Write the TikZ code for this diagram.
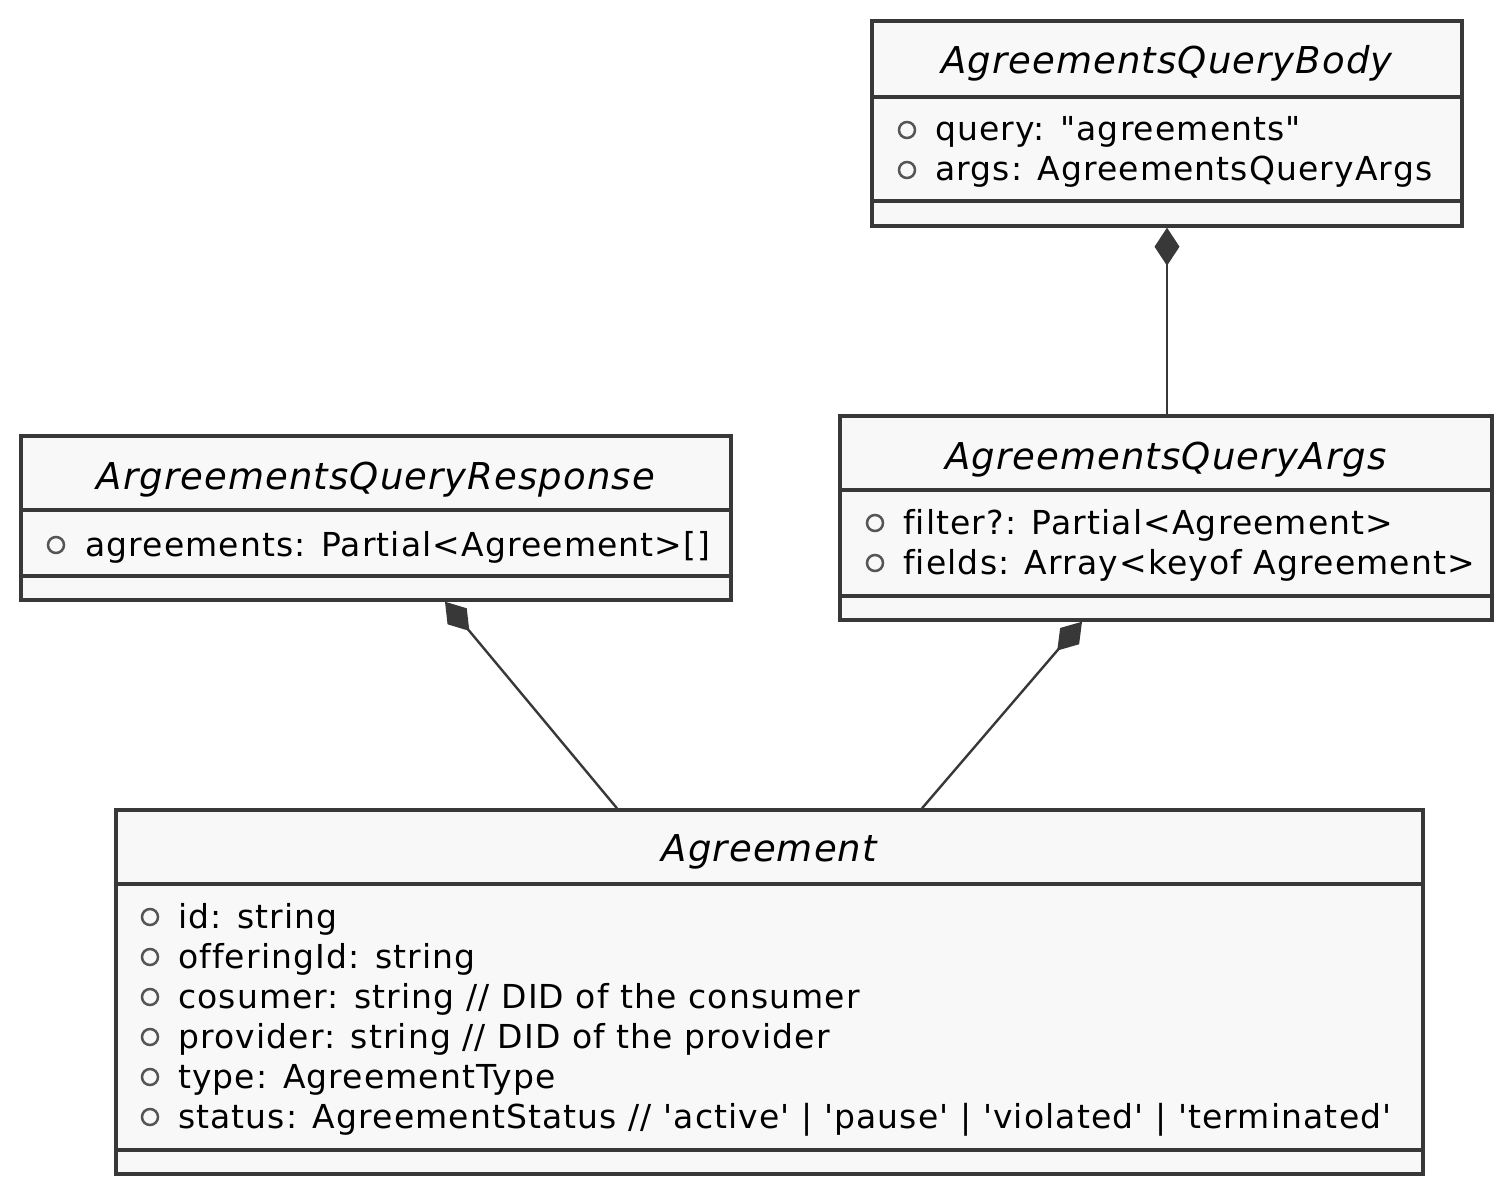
\documentclass[tikz,border=0pt]{standalone}
\usepackage{fontspec}
\setmainfont{DejaVu Sans}[LetterSpace=3.4,Ligatures={TeXOff,CommonOff}]
\newfontfamily\titlefont{DejaVu Sans}[ItalicFont={DejaVu Sans Oblique},LetterSpace=3,Ligatures={TeXOff,CommonOff}]
\usetikzlibrary{arrows.meta}
\definecolor{edge}{HTML}{383838}
\definecolor{boxfill}{HTML}{F8F8F8}
\definecolor{circ}{HTML}{555555}
\tikzset{
  classbox/.style={draw=edge, line width=3.4pt, fill=boxfill, inner sep=0pt},
  divider/.style={draw=edge, line width=3.4pt},
  titletext/.style={font=\fontsize{37}{42}\selectfont\titlefont\itshape, anchor=base, inner sep=0pt},
  attrtext/.style={font=\fontsize{33}{38}\selectfont, anchor=base west, inner sep=0pt},
  pub/.style={draw=circ, line width=2.5pt, fill=boxfill, circle, minimum size=16pt, inner sep=0pt},
  comp/.style={draw=edge, line width=2.4pt, {Diamond[length=38pt,width=25pt,fill=edge]}-},
}
\begin{document}
\begin{tikzpicture}[x=1pt,y=-1pt]
\useasboundingbox (0,0) rectangle (1512,1193);
% AgreementsQueryBody
\node[classbox, minimum width=590pt, minimum height=205pt] (body) at (1167,123.5) {};
\draw[divider] (872,97) -- (1462,97);
\draw[divider] (872,201) -- (1462,201);
\node[titletext] (bodyT) at (1167,74) {AgreementsQueryBody};
\node[pub] (bodyc1) at (907,130) {};
\node[attrtext] (bodya1) at (935,141) {query: "agreements"};
\node[pub] (bodyc2) at (907,170) {};
\node[attrtext] (bodya2) at (935,181) {args: AgreementsQueryArgs};
% ArgreementsQueryResponse
\node[classbox, minimum width=710pt, minimum height=164pt] (resp) at (376,518) {};
\draw[divider] (21,510) -- (731,510);
\draw[divider] (21,576) -- (731,576);
\node[titletext] (respT) at (376,489) {ArgreementsQueryResponse};
\node[pub] (respc1) at (56,545) {};
\node[attrtext] (respa1) at (85,556) {agreements: Partial<Agreement>[]};
% AgreementsQueryArgs
\node[classbox, minimum width=652pt, minimum height=204pt] (args) at (1166,518) {};
\draw[divider] (840,490) -- (1492,490);
\draw[divider] (840,596) -- (1492,596);
\node[titletext] (argsT) at (1166,469) {AgreementsQueryArgs};
\node[pub] (argsc1) at (875,523) {};
\node[attrtext] (argsa1) at (903,534) {filter?: Partial<Agreement>};
\node[pub] (argsc2) at (875,563) {};
\node[attrtext] (argsa2) at (903,574) {fields: Array<keyof Agreement>};
% Agreement
\node[classbox, minimum width=1307pt, minimum height=364pt] (agr) at (769.5,992) {};
\draw[divider] (116,884) -- (1423,884);
\draw[divider] (116,1150) -- (1423,1150);
\node[titletext] (agrT) at (769.5,861) {Agreement};
\foreach \i/\t in {0/{id: string},1/{offeringId: string},2/{cosumer: string // DID of the consumer},3/{provider: string // DID of the provider},4/{type: AgreementType},5/{status: AgreementStatus // 'active' | 'pause' | 'violated' | 'terminated'}}{
  \node[pub] (agrc\i) at (150,917+40*\i) {};
  \node[attrtext] (agra\i) at (178,928+40*\i) {\t};
}
% connectors
\draw[comp] (body.south) -- (body.south |- args.north);
\draw[comp] ([xshift=69pt]resp.south) -- ([xshift=-152.5pt]agr.north);
\draw[comp] ([xshift=-84pt]args.south) -- ([xshift=152.5pt]agr.north);
\end{tikzpicture}
\end{document}
